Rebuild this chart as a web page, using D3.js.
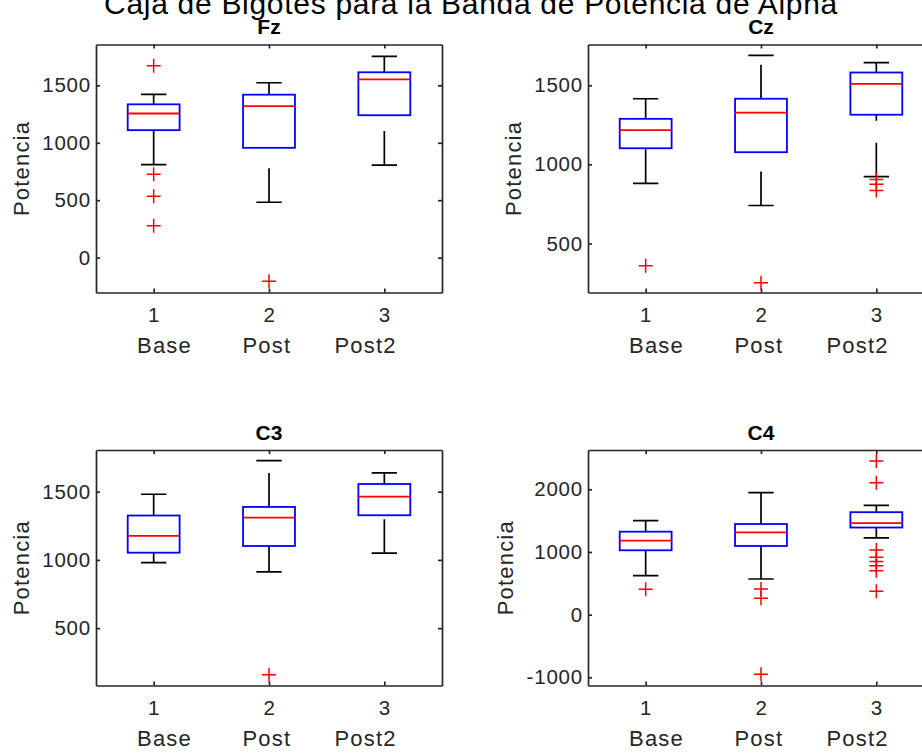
<!DOCTYPE html>
<html>
<head>
<meta charset="utf-8">
<script src="https://cdn.jsdelivr.net/npm/d3@7"></script>
<style>
  body { margin: 0; background: #fff; }
  svg { display: block; font-family: "Liberation Sans", Arial, sans-serif; }
</style>
</head>
<body>
<svg width="922" height="755"></svg>
<script>
const categories = [1, 2, 3];
const groupNames = ["Base", "Post", "Post2"];
const channels = ["Fz", "Cz", "C3", "C4"];

// per group: [lower whisker, q1, median, q3, upper whisker]
const fzBoxes = [[810, 1110, 1255, 1335, 1422], [482, 956, 1320, 1419, 1523], [806, 1240, 1552, 1614, 1752]];
const fzOutliers = [[1671, 725, 535, 277], [-207], []];
const czBoxes = [[880, 1102, 1217, 1288, 1415], [740, 1077, 1327, 1415, 1689], [922, 1314, 1509, 1581, 1644]];
const czOutliers = [[359], [252], [905, 875, 835]];
const c3Boxes = [[980, 1053, 1176, 1325, 1481], [912, 1102, 1310, 1388, 1727], [1049, 1327, 1463, 1556, 1637]];
const c3Outliers = [[], [158], []];
const c4Boxes = [[622, 1027, 1180, 1324, 1499], [569, 1096, 1314, 1446, 1946], [1225, 1390, 1462, 1635, 1742]];
const c4Outliers = [[405], [410, 261, -950], [2451, 2105, 1030, 915, 850, 780, 702, 375]];

const yLimits = [[-304, 1856], [190, 1758], [80, 1805], [-1130, 2627]];
const yTicks = [[0, 500, 1000, 1500], [500, 1000, 1500], [500, 1000, 1500], [-1000, 0, 1000, 2000]];

const boxes = [fzBoxes, czBoxes, c3Boxes, c4Boxes];
const outliers = [fzOutliers, czOutliers, c3Outliers, c4Outliers];

const svg = d3.select("svg");
const axisColor = "#262626";
const panelW = 346;
const panels = [
  { left: 96, top: 44.5, bottom: 292.5 },
  { left: 588, top: 44.5, bottom: 292.5 },
  { left: 96, top: 450, bottom: 685.5 },
  { left: 588, top: 450, bottom: 685.5 }
];
const boxW = 0.45, capW = 0.22;
const plain = d => String(d);

svg.append("text")
  .attr("x", 471).attr("y", 14)
  .attr("text-anchor", "middle")
  .style("font-size", "30px")
  .style("letter-spacing", "0.7px")
  .text("Caja de Bigotes para la Banda de Potencia de Alpha");

channels.forEach((name, i) => {
  const p = panels[i];
  const x = d3.scaleLinear().domain([0.5, 3.5]).range([p.left, p.left + panelW]);
  const y = d3.scaleLinear().domain(yLimits[i]).range([p.bottom, p.top]);
  const g = svg.append("g");

  g.append("clipPath").attr("id", "clip" + i)
    .append("rect")
    .attr("x", p.left).attr("y", p.top)
    .attr("width", panelW).attr("height", p.bottom - p.top);

  const plot = g.append("g").attr("clip-path", `url(#clip${i})`);
  const data = boxes[i].map((b, k) => ({ cat: categories[k], s: b, out: outliers[i][k] }));

  // whiskers (dashed, drawn from the lower value upward)
  data.forEach(d => {
    const [lo, q1, med, q3, hi] = d.s;
    [[lo, q1], [q3, hi]].forEach(([a, b]) => {
      plot.append("path")
        .attr("d", `M${x(d.cat)},${y(a)}V${y(b)}`)
        .attr("stroke", "#000").attr("stroke-width", 1.7)
        .attr("stroke-dasharray", "34 22").attr("fill", "none");
    });
    [lo, hi].forEach(v => {
      plot.append("line")
        .attr("x1", x(d.cat - capW / 2)).attr("x2", x(d.cat + capW / 2))
        .attr("y1", y(v)).attr("y2", y(v))
        .attr("stroke", "#000").attr("stroke-width", 1.7);
    });
    plot.append("rect")
      .attr("x", x(d.cat - boxW / 2)).attr("y", y(q3))
      .attr("width", x(d.cat + boxW / 2) - x(d.cat - boxW / 2))
      .attr("height", y(q1) - y(q3))
      .attr("fill", "none").attr("stroke", "#0000ff").attr("stroke-width", 1.8);
    plot.append("line")
      .attr("x1", x(d.cat - boxW / 2)).attr("x2", x(d.cat + boxW / 2))
      .attr("y1", y(med)).attr("y2", y(med))
      .attr("stroke", "#ff0000").attr("stroke-width", 1.8);
    plot.selectAll(null)
      .data(d.out)
      .enter()
      .append("path")
      .attr("transform", v => `translate(${x(d.cat)},${y(v)})`)
      .attr("d", "M-7,0H7M0,-7V7")
      .attr("stroke", "#ff0000").attr("stroke-width", 1.5).attr("fill", "none");
  });

  // axes, ticks inward on all four sides
  const yAxis = g.append("g")
    .attr("transform", `translate(${p.left},0)`)
    .call(d3.axisLeft(y).tickValues(yTicks[i]).tickSizeInner(-4).tickSizeOuter(0).tickPadding(5).tickFormat(plain));
  g.append("g")
    .attr("transform", `translate(${p.left + panelW},0)`)
    .call(d3.axisRight(y).tickValues(yTicks[i]).tickSizeInner(-4).tickSizeOuter(0).tickFormat(""));
  g.append("g")
    .attr("transform", `translate(0,${p.bottom})`)
    .call(d3.axisBottom(x).tickValues(categories).tickSizeInner(-4).tickSizeOuter(0).tickPadding(15).tickFormat(plain));
  g.append("g")
    .attr("transform", `translate(0,${p.top})`)
    .call(d3.axisTop(x).tickValues(categories).tickSizeInner(-4).tickSizeOuter(0).tickFormat(""));

  g.selectAll(".domain, .tick line").attr("stroke", axisColor).attr("stroke-width", 1.7);
  g.selectAll(".tick text")
    .attr("fill", axisColor)
    .style("font-size", "20.5px")
    .style("letter-spacing", "0.8px")
    .style("font-family", "Liberation Sans, Arial, sans-serif");

  // subplot title
  g.append("text")
    .attr("x", p.left + panelW / 2).attr("y", p.top - 10.5)
    .attr("text-anchor", "middle")
    .style("font-size", "21px").style("font-weight", "bold")
    .text(name);

  // y label placed left of the widest tick label
  const tickLeft = yAxis.node().getBBox().x + p.left;
  g.append("text")
    .attr("transform", `translate(${tickLeft - 13.5},${(p.top + p.bottom) / 2}) rotate(-90)`)
    .attr("text-anchor", "middle")
    .attr("fill", axisColor)
    .style("font-size", "22px").style("letter-spacing", "1.2px")
    .text("Potencia");

  // x label row with group names
  const labelPos = [0.198, 0.494, 0.779];
  groupNames.forEach((n, k) => {
    g.append("text")
      .attr("x", p.left + panelW * labelPos[k]).attr("y", p.bottom + 60)
      .attr("text-anchor", "middle")
      .attr("fill", axisColor)
      .style("font-size", "22px").style("letter-spacing", "1.2px")
      .text(n);
  });
});
</script>
</body>
</html>
